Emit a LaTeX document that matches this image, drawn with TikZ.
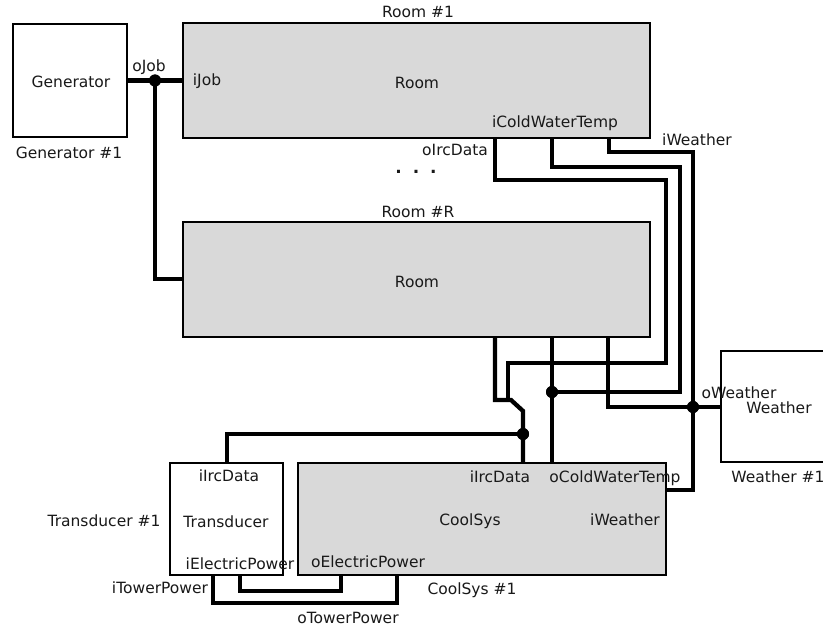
\documentclass[tikz,border=0pt]{standalone}
\usepackage{fontspec}
\setmainfont{DejaVu Sans}
\definecolor{boxgray}{RGB}{217,217,217}
\definecolor{txt}{RGB}{25,25,25}
\begin{document}
\begin{tikzpicture}[x=1pt,y=-1pt,
  every node/.style={font=\fontsize{15.5}{18}\selectfont,text=txt,inner sep=0pt},
  blk/.style={draw=black,line width=2.5pt,inner sep=0pt,minimum width=#1},
  wire/.style={line width=4.3pt,line join=miter,line cap=butt},
  jn/.style={circle,fill=black,minimum size=12pt,inner sep=0pt}]
\useasboundingbox (0,0) rectangle (823,626);
\clip (0,0) rectangle (823,626);
\fill[white] (0,0) rectangle (823,626);

% blocks
\node[blk=114pt,minimum height=113pt,fill=white] (gen) at (70,80.5) {};
\node[blk=467pt,minimum height=115pt,fill=boxgray] (room1) at (416.5,80.5) {};
\node[blk=467pt,minimum height=115pt,fill=boxgray] (roomR) at (416.5,279.5) {};
\node[blk=116pt,minimum height=111pt,fill=white] (wea) at (779,406.5) {};
\node[blk=113pt,minimum height=112pt,fill=white] (trans) at (226.5,519) {};
\node[blk=368pt,minimum height=112pt,fill=boxgray] (cool) at (482,519) {};

% texts
\node (tgen) at (71,82) {Generator};
\node (lgen) at (69,153) {Generator \#1};
\node (troom1) at (417,83) {Room};
\node (lroom1) at (418,12) {Room \#1};
\node (troomR) at (417,282) {Room};
\node (lroomR) at (418,212) {Room \#R};
\node (twea) at (779,408) {Weather};
\node (lwea) at (778,477) {Weather \#1};
\node (ttrans) at (226,522) {Transducer};
\node (ltrans) at (104,521) {Transducer \#1};
\node (tcool) at (470,521) {CoolSys};
\node (lcool) at (472,590) {CoolSys \#1};
\node[font=\fontsize{17}{18}\selectfont\bfseries] (dots) at (416,172) {.\hspace{11pt}.\hspace{11pt}.};

% port labels
\node (poJob) at (149,67) {oJob};
\node (piJob) at (207,81) {iJob};
\node (piCWT) at (555,123) {iColdWaterTemp};
\node (poIrc) at (455,150) {oIrcData};
\node (piWea) at (697,140) {iWeather};
\node (poWea) at (739,393) {oWeather};
\node (pcIrc) at (500,477) {iIrcData};
\node (pcCWT) at (615,478) {oColdWaterTemp};
\node (pcWea) at (625,520) {iWeather};
\node (pcElec) at (368,562) {oElectricPower};
\node (ptElec) at (240,564) {iElectricPower};
\node (ptIrc) at (229,476) {iIrcData};
\node (ptTow) at (160,588) {iTowerPower};
\node (pcTow) at (348,618) {oTowerPower};

% port coordinates
\coordinate (r1a) at (495,138);
\coordinate (r1b) at (552,138);
\coordinate (r1c) at (609,138);
\coordinate (rRa) at (495,337);
\coordinate (rRb) at (552,337);
\coordinate (rRc) at (608,337);
\coordinate (cIrc) at (523,463);
\coordinate (cCWT) at (552,463);
\coordinate (cWea) at (666,490);
\coordinate (tIrc) at (227,463);
\coordinate (tElec) at (240,575);
\coordinate (tTow) at (213,575);
\coordinate (cElec) at (341,575);
\coordinate (cTow) at (397,575);
\coordinate (wIn) at (721,407);
\coordinate (rRjob) at (183,279);

% junctions
\node[jn] (jJob) at (155,80.5) {};
\node[jn] (jIrc) at (523,434) {};
\node[jn] (jCWT) at (552,392) {};
\node[jn] (jWea) at (693,407) {};

% wires
\draw[wire] (gen.east) -- (jJob.center) -- (room1.west);
\draw[wire] (jJob.center) -- (155,279) -- (rRjob);
\draw[wire] (r1a) -- (495,180) -- (666,180) -- (666,363) -- (508,363) -- (508,400);
\draw[wire] (rRa) -- (495,400) -- (511,400) -- (523,411) -- (jIrc.center) -- (cIrc);
\draw[wire] (jIrc.center) -- (227,434) -- (tIrc);
\draw[wire] (r1b) -- (552,167) -- (680,167) -- (680,392) -- (jCWT.center);
\draw[wire] (rRb) -- (jCWT.center) -- (cCWT);
\draw[wire] (r1c) -- (609,152) -- (693,152) -- (jWea.center) -- (693,490) -- (cWea);
\draw[wire] (rRc) -- (608,407) -- (jWea.center) -- (wIn);
\draw[wire] (tElec) -- (240,591) -- (341,591) -- (cElec);
\draw[wire] (tTow) -- (213,603) -- (397,603) -- (cTow);
% redraw junction dots on top
\foreach \j in {jJob,jIrc,jCWT,jWea} \fill (\j) circle (6pt);
\end{tikzpicture}
\end{document}
